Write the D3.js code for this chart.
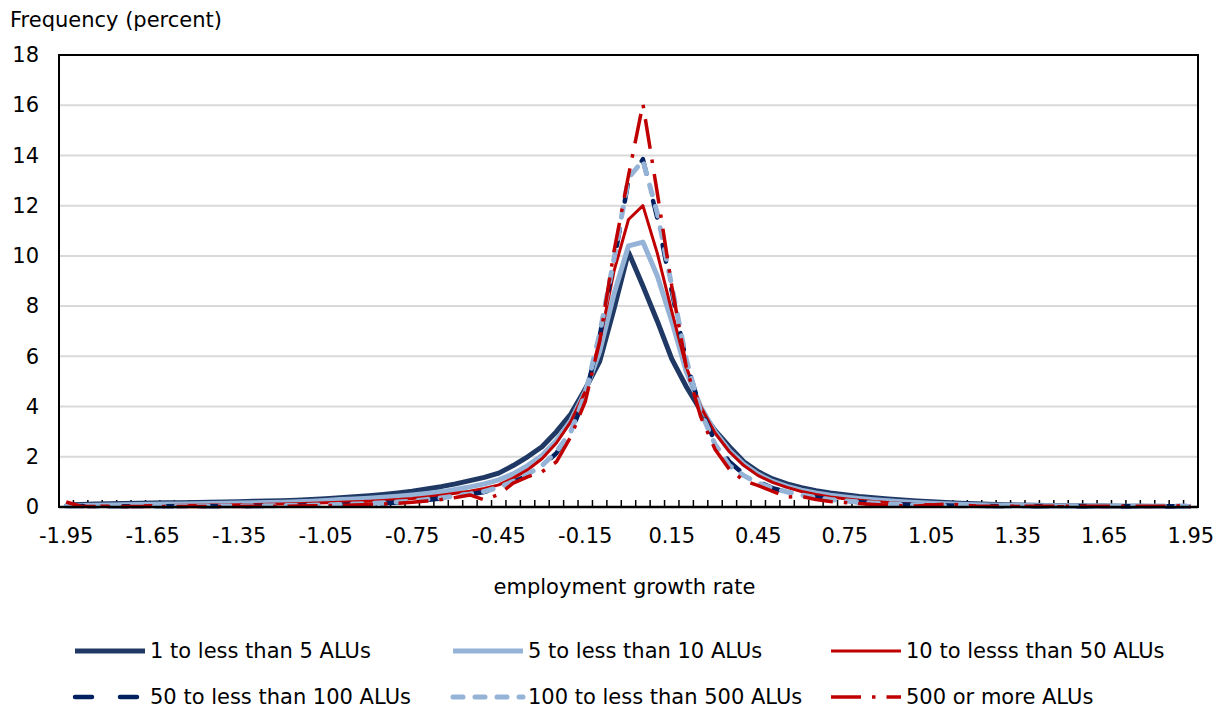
<!DOCTYPE html>
<html><head><meta charset="utf-8">
<script src="https://cdn.jsdelivr.net/npm/d3@7"></script>
<style>
html,body{margin:0;padding:0;background:#fff;}
text{font-family:"DejaVu Sans",Verdana,sans-serif;fill:#000;}
</style></head>
<body><svg id="chart" width="1216" height="708"></svg>
<script>
const categories = ["-1.95","-1.90","-1.85","-1.80","-1.75","-1.70","-1.65","-1.60","-1.55","-1.50",
"-1.45","-1.40","-1.35","-1.30","-1.25","-1.20","-1.15","-1.10","-1.05","-1.00",
"-0.95","-0.90","-0.85","-0.80","-0.75","-0.70","-0.65","-0.60","-0.55","-0.50",
"-0.45","-0.40","-0.35","-0.30","-0.25","-0.20","-0.15","-0.10","-0.05","0.00",
"0.05","0.10","0.15","0.20","0.25","0.30","0.35","0.40","0.45","0.50",
"0.55","0.60","0.65","0.70","0.75","0.80","0.85","0.90","0.95","1.00",
"1.05","1.10","1.15","1.20","1.25","1.30","1.35","1.40","1.45","1.50",
"1.55","1.60","1.65","1.70","1.75","1.80","1.85","1.90","1.95"];
const xTickLabels = ["-1.95","-1.65","-1.35","-1.05","-0.75","-0.45","-0.15","0.15","0.45","0.75","1.05","1.35","1.65","1.95"];
const yTicks = [0,2,4,6,8,10,12,14,16,18];

const s1to5 = [0.08,0.1,0.12,0.13,0.14,0.15,0.16,0.17,0.17,0.18,0.19,0.2,0.21,0.23,0.24,0.25,0.27,0.3,0.33,0.37,
0.41,0.45,0.5,0.56,0.63,0.72,0.81,0.92,1.05,1.18,1.35,1.65,2.0,2.4,3.0,3.7,4.7,5.8,7.9,
10.15,
8.8,7.4,5.9,4.8,3.85,3.05,2.4,1.8,1.4,1.12,0.92,0.77,0.65,0.56,0.49,0.42,0.37,0.32,0.28,0.24,0.21,0.18,0.15,0.13,0.11,0.09,0.08,0.07,0.06,0.05,0.05,0.04,0.04,0.03,0.03,0.03,0.02,0.02,0.02];
const s5to10 = [0.05,0.06,0.07,0.08,0.09,0.1,0.11,0.12,0.12,0.13,0.14,0.15,0.16,0.17,0.18,0.19,0.21,0.23,0.26,0.3,
0.32,0.35,0.39,0.43,0.48,0.54,0.61,0.7,0.8,0.92,1.08,1.32,1.65,2.05,2.65,3.45,4.6,6.2,8.5,
10.4,
10.55,9.2,7.4,5.4,4.0,3.0,2.25,1.7,1.3,1.02,0.82,0.67,0.56,0.47,0.4,0.34,0.29,0.25,0.21,0.18,0.15,0.13,0.11,0.09,0.08,0.07,0.06,0.05,0.05,0.04,0.04,0.03,0.03,0.03,0.02,0.02,0.02,0.02,0.02];
const s10to50 = [0.03,0.03,0.04,0.04,0.05,0.05,0.06,0.06,0.07,0.07,0.08,0.08,0.09,0.1,0.11,0.12,0.13,0.15,0.17,0.19,
0.21,0.23,0.26,0.3,0.34,0.4,0.47,0.55,0.63,0.74,0.88,1.15,1.48,1.92,2.55,3.4,4.6,6.6,9.4,
11.45,
12.0,10.1,7.8,5.6,4.0,2.95,2.2,1.65,1.25,0.98,0.78,0.62,0.5,0.4,0.33,0.27,0.22,0.18,0.14,0.11,0.09,0.07,0.06,0.05,0.04,0.04,0.03,0.03,0.02,0.02,0.02,0.02,0.01,0.01,0.01,0.01,0.01,0.01,0.01];
const s50to100 = [0.05,0.04,0.04,0.03,0.03,0.03,0.03,0.03,0.03,0.03,0.03,0.03,0.03,0.04,0.04,0.05,0.05,0.06,0.07,0.08,
0.1,0.12,0.15,0.18,0.22,0.28,0.34,0.42,0.5,0.6,0.75,1.0,1.25,1.6,2.15,2.95,4.4,6.8,9.8,
13.0,
13.85,11.5,8.6,5.8,3.9,2.6,1.8,1.3,1.0,0.75,0.6,0.48,0.38,0.3,0.24,0.19,0.15,0.12,0.1,0.08,0.07,0.06,0.05,0.04,0.04,0.03,0.03,0.03,0.03,0.03,0.03,0.03,0.03,0.03,0.03,0.03,0.03,0.03,0.03];
const s100to500 = [0.04,0.04,0.03,0.03,0.03,0.03,0.03,0.03,0.03,0.03,0.04,0.04,0.04,0.05,0.05,0.06,0.06,0.07,0.08,0.1,
0.12,0.14,0.17,0.2,0.24,0.3,0.36,0.44,0.52,0.62,0.78,1.02,1.3,1.65,2.2,3.0,4.5,6.9,9.9,
13.1,
13.8,11.7,8.8,5.9,3.8,2.5,1.65,1.25,0.95,0.75,0.6,0.48,0.38,0.3,0.24,0.2,0.16,0.13,0.1,0.08,0.07,0.06,0.05,0.05,0.04,0.04,0.04,0.04,0.04,0.04,0.04,0.04,0.04,0.04,0.04,0.04,0.04,0.04,0.04];
const s500plus = [0.2,0.03,0.02,0.02,0.02,0.02,0.02,0.02,0.02,0.02,0.02,0.02,0.02,0.03,0.03,0.03,0.04,0.05,0.06,0.07,
0.08,0.1,0.12,0.15,0.19,0.24,0.3,0.38,0.48,0.28,0.5,0.95,1.2,1.4,1.8,2.8,4.2,6.6,10.2,
13.2,
16.05,12.5,8.8,5.6,3.6,2.3,1.5,1.05,0.85,0.62,0.4,0.42,0.3,0.22,0.18,0.14,0.1,0.07,0.05,0.04,0.08,0.12,0.08,0.04,0.03,0.03,0.03,0.03,0.03,0.03,0.03,0.03,0.03,0.03,0.03,0.03,0.03,0.03,0.15];

const seriesNames = ["1 to less than 5 ALUs","5 to less than 10 ALUs","10 to lesss than 50 ALUs",
  "50 to less than 100 ALUs","100 to less than 500 ALUs","500 or more ALUs"];

const series = [
  {name:seriesNames[0], values:s1to5,    color:"#1F3864", width:5,   dash:null,            cap:"butt"},
  {name:seriesNames[1], values:s5to10,   color:"#95B3D7", width:5,   dash:null,            cap:"butt"},
  {name:seriesNames[2], values:s10to50,  color:"#C00000", width:3,   dash:null,            cap:"butt"},
  {name:seriesNames[3], values:s50to100, color:"#002060", width:4.5, dash:"17,28",         cap:"round"},
  {name:seriesNames[4], values:s100to500,color:"#95B3D7", width:5,   dash:"10,12",         cap:"round"},
  {name:seriesNames[5], values:s500plus, color:"#C00000", width:3.5, dash:"30,11,3.5,11",  cap:"butt"}
];

const FONT = '"DejaVu Sans",Verdana,sans-serif';
const svg = d3.select("#chart");
const pLeft = 59, pRight = 1198, pTop = 55, pBottom = 507;

const x = d3.scaleBand().domain(categories).range([pLeft, pRight]).padding(0);
const y = d3.scaleLinear().domain([0, 18]).range([pBottom, pTop]);
const cx = c => x(c) + x.bandwidth() / 2;

// gridlines
svg.append("g").selectAll("line").data(yTicks.filter(d => d > 0 && d < 18)).join("line")
  .attr("x1", pLeft).attr("x2", pRight).attr("y1", d => y(d)).attr("y2", d => y(d))
  .attr("stroke", "#D9D9D9").attr("stroke-width", 2);

// plot border
svg.append("rect").attr("x", pLeft).attr("y", pTop).attr("width", pRight - pLeft).attr("height", pBottom - pTop)
  .attr("fill", "none").attr("stroke", "#000").attr("stroke-width", 2);

// y axis labels
const yAxis = d3.axisLeft(y).tickValues(yTicks).tickSize(0).tickPadding(20);
const gy = svg.append("g").attr("transform", `translate(${pLeft},0)`).call(yAxis);
gy.select(".domain").remove();
gy.selectAll("text").style("font-size", "21px").style("font-family", FONT).attr("fill", "#000");

// x tick marks at category boundaries (inside)
const boundaries = categories.map(c => x(c)).concat([x(categories[categories.length - 1]) + x.bandwidth()]);
svg.append("g").selectAll("line").data(boundaries).join("line")
  .attr("x1", d => d).attr("x2", d => d).attr("y1", pBottom).attr("y2", pBottom - 7)
  .attr("stroke", "#000").attr("stroke-width", 1.5);

// x axis labels
const xAxis = d3.axisBottom(x).tickValues(xTickLabels).tickSize(0).tickPadding(21);
const gx = svg.append("g").attr("transform", `translate(0,${pBottom})`).call(xAxis);
gx.select(".domain").remove();
gx.selectAll("text").style("font-size", "21px").style("font-family", FONT).attr("fill", "#000");

// lines
const line = d3.line().x((d, i) => cx(categories[i])).y(d => y(d));
svg.append("g").selectAll("path").data(series).join("path")
  .attr("d", s => line(s.values))
  .attr("fill", "none")
  .attr("stroke", s => s.color)
  .attr("stroke-width", s => s.width)
  .attr("stroke-linejoin", "round")
  .attr("stroke-linecap", s => s.cap)
  .attr("stroke-dasharray", s => s.dash);

// redraw axis line on top
svg.append("line").attr("x1", pLeft).attr("x2", pRight).attr("y1", pBottom).attr("y2", pBottom)
  .attr("stroke", "#000").attr("stroke-width", 2.5);

// titles
svg.append("text").attr("x", 10).attr("y", 27).style("font-size", "21px").text("Frequency (percent)");
svg.append("text").attr("x", (pLeft + pRight) / 2 - 4).attr("y", 594).attr("text-anchor", "middle")
  .style("font-size", "21px").text("employment growth rate");

// legend
const legendPos = [[75,651],[453,651],[831,651],[75,697],[453,697],[831,697]];
const lg = svg.append("g").selectAll("g").data(series).join("g")
  .attr("transform", (s, i) => `translate(${legendPos[i][0]},${legendPos[i][1]})`);
lg.append("line").attr("x1", 0).attr("x2", 70).attr("y1", 0).attr("y2", 0)
  .attr("stroke", s => s.color).attr("stroke-width", s => s.width)
  .attr("stroke-linecap", s => s.cap).attr("stroke-dasharray", s => s.dash);
lg.append("text").attr("x", 75).attr("y", 7).style("font-size", "21px").text(s => s.name);
</script></body></html>
